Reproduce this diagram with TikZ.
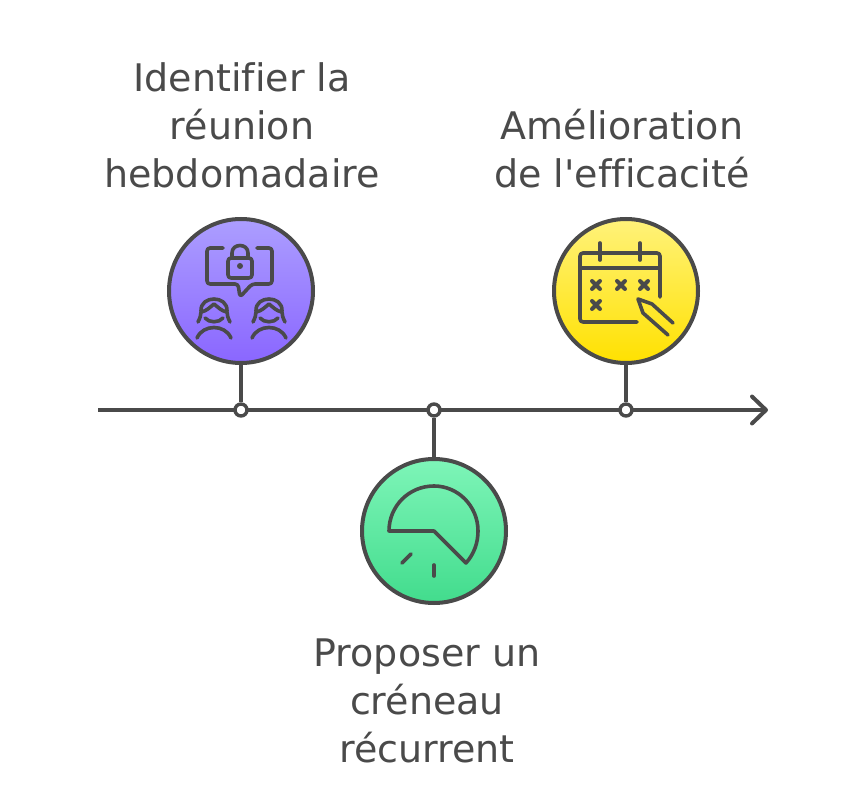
\documentclass[tikz,border=0pt]{standalone}
\usepackage{fontspec}
\setmainfont[Ligatures=NoCommon]{DejaVu Sans}
\usepackage{tikz}
\usetikzlibrary{arrows.meta}
\definecolor{inkgray}{HTML}{4A4A4A}
\definecolor{violettop}{HTML}{AC9EFF}
\definecolor{violetbot}{HTML}{8A66FF}
\definecolor{greentop}{HTML}{7EF5B8}
\definecolor{greenbot}{HTML}{42DC8D}
\definecolor{yellowtop}{HTML}{FFF27A}
\definecolor{yellowbot}{HTML}{FFE100}
\tikzset{
  phasecircle/.style = {circle, draw=inkgray, line width=4pt, minimum size=144pt, inner sep=0pt},
  phaselabel/.style = {text=inkgray, align=center, font=\fontsize{38}{48}\selectfont},
  axisdot/.style = {circle, draw=inkgray, fill=white, line width=3.4pt, minimum size=12pt, inner sep=0pt},
  axisline/.style = {draw=inkgray, line width=4pt},
  iconline/.style = {draw=inkgray, line width=3.6pt, line cap=round, line join=round},
  personicon/.pic = {
    \draw[iconline] (-13,1) .. controls (-14,-15) and (14,-15) .. (13,1);
    \draw[iconline] (-16,12) .. controls (-14,8) and (-13,5) .. (-13,2) .. controls (-7,1) and (-4,-3) .. (0,-6) .. controls (4,-3) and (7,1) .. (13,2) .. controls (13,5) and (14,8) .. (16,12);
    \draw[iconline] (-9,8) .. controls (-5,13) and (5,13) .. (9,8);
    \draw[iconline] (-17,28) .. controls (-11,14) and (11,14) .. (17,28);
  },
  crossicon/.pic = {
    \draw[iconline, line width=4pt] (-4,-4) -- (4,4) (-4,4) -- (4,-4);
  }
}
\begin{document}
\begin{tikzpicture}[x=1pt, y=-1pt]
  \useasboundingbox (0,0) rectangle (868,810);

  % timeline
  \coordinate (start) at (98,410);
  \coordinate (end) at (768,410);
  \draw[axisline, -{Straight Barb[length=14pt, width=27pt, line width=4pt, round]}] (start) -- (end);

  % circles
  \node (reunion)[phasecircle, top color=violettop, bottom color=violetbot] at (241,291) {};
  \node (creneau)[phasecircle, top color=greentop, bottom color=greenbot] at (434,531) {};
  \node (efficacite)[phasecircle, top color=yellowtop, bottom color=yellowbot] at (626,291) {};

  % dots on the line
  \node (dota)[axisdot] at (241,410) {};
  \node (dotb)[axisdot] at (434,410) {};
  \node (dotc)[axisdot] at (626,410) {};
  \draw[axisline] (reunion) -- (dota);
  \draw[axisline] (creneau) -- (dotb);
  \draw[axisline] (efficacite) -- (dotc);

  % bubble with lock and two people
  \draw[iconline, rounded corners=3pt] (223,248) -- (207,248) -- (207,284) -- (238,284) -- (240,297) -- (252,284) -- (272,284) -- (272,248) -- (257,248);
  \draw[iconline, rounded corners=3pt] (228,258) rectangle (252,278);
  \draw[iconline] (232,258) -- (232,253) .. controls (232,243) and (248,243) .. (248,253) -- (248,258);
  \fill[inkgray] (240,266) circle (3);
  \pic at (214,310) {personicon};
  \pic at (269,310) {personicon};

  % calendar and pencil
  \draw[iconline, rounded corners=3pt] (660,297) -- (660,253) -- (580,253) -- (580,322) -- (637,322);
  \draw[iconline] (580,268) -- (660,268);
  \draw[iconline] (600,243) -- (600,260);
  \draw[iconline] (640,243) -- (640,260);
  \pic at (596,285) {crossicon};
  \pic at (621,285) {crossicon};
  \pic at (644,285) {crossicon};
  \pic at (596,305) {crossicon};
  \draw[iconline] (673,323) -- (652,304) -- (638,299) -- (643,313) -- (668,335);

  % dial
  \draw[iconline] (434,531) -- (389,531) .. controls (389,506) and (409,486) .. (434,486) .. controls (458,486) and (478,506) .. (478,531) .. controls (478,543) and (474,554) .. (466,563) -- cycle;
  \draw[iconline] (402,563) -- (411,554);
  \draw[iconline] (434,565) -- (434,576);

  % labels
  \node (labela)[phaselabel] at (242,125) {Identifier la\\réunion\\hebdomadaire};
  \node (labelb)[phaselabel] at (427,701) {Proposer un\\créneau\\récurrent};
  \node (labelc)[phaselabel] at (622,149) {Amélioration\\de l\textquotesingle efficacité};
\end{tikzpicture}
\end{document}
